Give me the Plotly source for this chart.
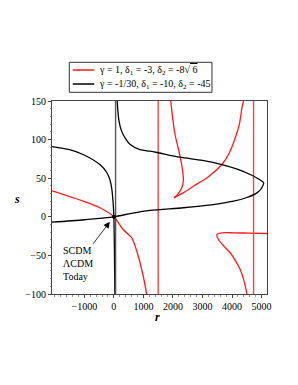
import plotly.graph_objects as go

# ---------------- data ----------------
# black family: gamma=-1/30, d1=-10, d2=-45
black_main_r = [112, 170, 261, 400, 543, 883, 1222, 1460, 2241, 3000, 3657, 4200, 4618, 4900, 5070, 5000, 4846, 4500, 4051, 3300, 2353, 1222, 600, 0, -1000, -2095]
black_main_s = [150, 125, 111, 101, 94, 87, 85, 83.3, 77.2, 73, 67.7, 61.5, 54.8, 49, 44, 37, 31, 25, 20.2, 15.5, 11.7, 8.2, 4.5, 0, -3.8, -7]
black_left_r = [-2095, -1500, -1042, -475, -250, -136, -70, -34, -12, 0, 12, 22, 34]
black_left_s = [91, 87, 80.7, 67.7, 58, 48.3, 36, 22.4, 10, 0, -25, -55, -100]
black_asym_r = [58, 58]
black_asym_s = [-100, 150]

# red family: gamma=1, d1=-3, d2=-8*sqrt(6)
red_left_r = [-2095, -1042, -475, 0, 316, 601, 780, 995, 1110]
red_left_s = [33.5, 20.2, 11.7, 0, -16.5, -27, -45, -77, -100]
red_mid_a_r = [1925, 2000, 2071, 2160, 2241, 2310, 2353, 2340, 2299, 2180, 2037]
red_mid_a_s = [150, 125, 106.6, 92, 78.5, 64, 50.5, 43, 37.6, 30, 24.6]
red_mid_b_r = [2037, 2350, 2693, 3200, 3657, 3900, 4109, 4250, 4336, 4390]
red_mid_b_s = [24.6, 31, 39.6, 52, 67.7, 82, 102, 120, 141, 150]
red_low_r = [5185, 4600, 4051, 3650, 3487, 3542, 3700, 3939, 4120, 4278, 4400, 4506]
red_low_s = [-21.6, -21.2, -20.7, -20.9, -23, -29.4, -37, -46.6, -57, -68.3, -82, -100]
red_vert1_r = [1500, 1500]
red_vert2_r = [4730, 4730]
red_vert_s = [-100, 150]

today_r = [0]
today_s = [0]

legend_red = "γ = 1, δ<sub>1</sub> = -3, δ<sub>2</sub> = -8√<span style='text-decoration:overline'> 6</span>"
legend_black = "γ = -1/30, δ<sub>1</sub> = -10, δ<sub>2</sub> = -45"
note_text = "SCDM<br>ΛCDM<br>Today"

x_range = [-2095, 5185]
y_range = [-100, 150]
x_ticks = [-1000, 0, 1000, 2000, 3000, 4000, 5000]
y_ticks = [-100, -50, 0, 50, 100, 150]

RED = "#ff1a1a"
BLACK = "#000000"
FONT = "Liberation Serif"

fig = go.Figure()

def add(r, s, color, width=1.3, spline=True):
    fig.add_trace(go.Scatter(
        x=r, y=s, mode="lines", showlegend=False,
        line=dict(color=color, width=width, shape="spline" if spline else "linear", smoothing=0.8),
        hoverinfo="skip"))

# red family
add(red_left_r, red_left_s, RED)
add(red_vert1_r, red_vert_s, "#ff4040", width=1.4, spline=False)
add(red_mid_a_r, red_mid_a_s, RED)
add(red_mid_b_r, red_mid_b_s, RED)
add(red_low_r, red_low_s, RED)
add(red_vert2_r, red_vert_s, "#ff4040", width=1.4, spline=False)

# black family
add(black_main_r, black_main_s, BLACK)
add(black_left_r, black_left_s, BLACK)
add(black_asym_r, black_asym_s, "#555555", width=1.4, spline=False)

fig.add_trace(go.Scatter(x=today_r, y=today_s, mode="markers", showlegend=False,
                         marker=dict(color="#000000", size=4), hoverinfo="skip"))

# "today" label with arrow
fig.add_annotation(x=-136, y=-6.5, xref="x", yref="y", text=note_text, align="left",
                   showarrow=True, axref="pixel", ayref="pixel", ax=-32, ay=42,
                   arrowhead=2, arrowsize=1.6, arrowwidth=0.8, arrowcolor="#000",
                   font=dict(family=FONT, size=10, color="#000"))

# axis titles
fig.add_annotation(x=-0.163, y=0.492, xref="paper", yref="paper", text="<b><i>s</i></b>",
                   showarrow=False, xanchor="center", yanchor="middle",
                   font=dict(family=FONT, size=12, color="#000"))
fig.add_annotation(x=0.491, y=-0.119, xref="paper", yref="paper", text="<b><i>r</i></b>",
                   showarrow=False, xanchor="center", yanchor="middle",
                   font=dict(family=FONT, size=12, color="#000"))

# legend box (drawn in paper coordinates)
fig.add_shape(type="rect", xref="paper", yref="paper", x0=0.0805, x1=0.744, y0=1.045, y1=1.2005,
              line=dict(color="#333", width=1), fillcolor="white")
for yy, col, txt in [(1.1606, RED, legend_red), (1.088, BLACK, legend_black)]:
    fig.add_shape(type="line", xref="paper", yref="paper", x0=0.0963, x1=0.1967, y0=yy, y1=yy,
                  line=dict(color=col, width=1.5))
    fig.add_annotation(x=0.2079, y=yy, xref="paper", yref="paper", text=txt, showarrow=False,
                       xanchor="left", yanchor="middle", font=dict(family=FONT, size=10, color="#000"))

axis_common = dict(showgrid=False, zeroline=False, showline=True, linecolor="#444", linewidth=1,
                   mirror=True, ticks="outside", ticklen=3, tickcolor="#444",
                   tickfont=dict(family=FONT, size=10, color="#000"))

fig.update_xaxes(range=x_range, tickvals=x_ticks, **axis_common,
                 minor=dict(ticks="outside", ticklen=1.5, dtick=200, tickcolor="#999"))
fig.update_yaxes(range=y_range, tickvals=y_ticks, **axis_common,
                 minor=dict(ticks="outside", ticklen=1.5, dtick=10, tickcolor="#999"))

# page body has an 8px margin, so the figure is sized/offset to compensate
fig.update_layout(
    width=282, height=369,
    margin=dict(l=44, r=23, t=93, b=83, autoexpand=False),
    paper_bgcolor="white", plot_bgcolor="white",
    font=dict(family=FONT, size=10, color="#000"),
    showlegend=False,
)

fig.write_html("out.html")
